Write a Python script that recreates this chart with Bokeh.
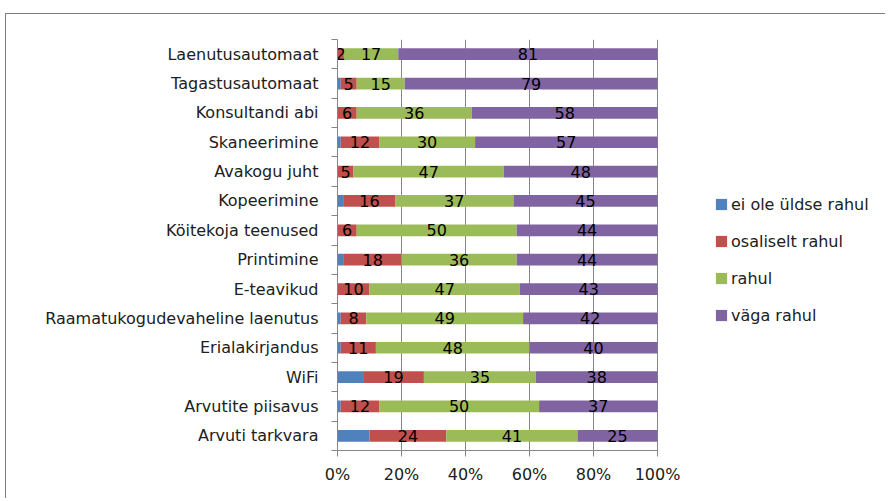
from bokeh.plotting import figure
from bokeh.models import FixedTicker, ColumnDataSource, Legend, LegendItem
from bokeh.core.properties import value
from bokeh.embed import file_html
from bokeh.resources import INLINE

# ---- data (top to bottom as in the chart) ----
categories = [
    "Laenutusautomaat", "Tagastusautomaat", "Konsultandi abi", "Skaneerimine",
    "Avakogu juht", "Kopeerimine", "Köitekoja teenused", "Printimine",
    "E-teavikud", "Raamatukogudevaheline laenutus", "Erialakirjandus", "WiFi",
    "Arvutite piisavus", "Arvuti tarkvara",
]
ei_ole_uldse_rahul = [0, 1, 0, 1, 0, 2, 0, 2, 0, 1, 1, 8, 1, 10]
osaliselt_rahul = [2, 5, 6, 12, 5, 16, 6, 18, 10, 8, 11, 19, 12, 24]
rahul = [17, 15, 36, 30, 47, 37, 50, 36, 47, 49, 48, 35, 50, 41]
vaga_rahul = [81, 79, 58, 57, 48, 45, 44, 44, 43, 42, 40, 38, 37, 25]
series_names = ["ei ole üldse rahul", "osaliselt rahul", "rahul", "väga rahul"]
series_keys = ["s0", "s1", "s2", "s3"]
colors = ["#4F81BD", "#C0504D", "#9BBB59", "#8064A2"]
x_ticks = [0, 20, 40, 60, 80, 100]

FONT = "DejaVu Sans"
FS = "16px"
TXT = "#202020"
n = len(categories)
ypos = [n - 1 - i for i in range(n)]

# layout: the frame extends right to hold the legend; the 0-100 scale spans 320px
W, H = 880, 485
LEFT, TOP, BOTTOM, RIGHT = 331, 25, 49, 10
FRAME_W = W - LEFT - RIGHT
BAR_W = 320
x_end = 100 * FRAME_W / BAR_W

data = {"y": ypos, "s0": ei_ole_uldse_rahul, "s1": osaliselt_rahul,
        "s2": rahul, "s3": vaga_rahul}
source = ColumnDataSource(data)

p = figure(width=W, height=H, x_range=(0, x_end), y_range=(-0.5, n - 0.5),
           output_backend="svg", toolbar_location=None,
           min_border_left=LEFT, min_border_right=RIGHT,
           min_border_top=TOP, min_border_bottom=BOTTOM)
p.outline_line_color = None
p.background_fill_color = "white"
p.border_fill_color = "white"
p.styles = {"margin-left": "5px", "margin-top": "13px",
            "border-left": "1px solid #7f7f7f", "border-top": "1px solid #7f7f7f"}

renderers = p.hbar_stack(series_keys, y="y", height=0.4, color=colors,
                         source=source, line_width=0)

# data labels for the last three series
series_vals = [ei_ole_uldse_rahul, osaliselt_rahul, rahul, vaga_rahul]
for k in range(1, 4):
    xs, ys, ts = [], [], []
    for i in range(n):
        left = sum(series_vals[j][i] for j in range(k))
        v = series_vals[k][i]
        xs.append(left + v / 2)
        ys.append(ypos[i])
        ts.append(str(v))
    p.text(x=xs, y=ys, text=ts, text_align="center", text_baseline="middle",
           text_font=value(FONT), text_font_size=FS, text_color="#000000")

# x axis
xa = p.xaxis[0]
xa.bounds = (0, 100)
xa.ticker = FixedTicker(ticks=x_ticks)
xa.major_label_overrides = {t: f"{t}%" for t in x_ticks}
xa.axis_line_color = "#868686"
xa.major_tick_line_color = "#868686"
xa.major_tick_out = 6
xa.major_tick_in = 0
xa.minor_tick_line_color = None
xa.major_label_standoff = 8
xa.major_label_text_font = FONT
xa.major_label_text_font_size = FS
xa.major_label_text_color = TXT

# y axis: labels at categories, ticks between them
ya = p.yaxis[0]
ya.ticker = FixedTicker(ticks=ypos, minor_ticks=[i - 0.5 for i in range(n + 1)])
ya.major_label_overrides = {ypos[i]: categories[i] for i in range(n)}
ya.axis_line_color = "#868686"
ya.major_tick_line_color = None
ya.major_tick_out = 0
ya.major_tick_in = 0
ya.minor_tick_line_color = "#868686"
ya.minor_tick_out = 6
ya.minor_tick_in = 0
ya.major_label_standoff = 13
ya.major_label_text_font = FONT
ya.major_label_text_font_size = FS
ya.major_label_text_color = TXT

p.xgrid.ticker = FixedTicker(ticks=x_ticks)
p.xgrid.grid_line_color = "#868686"
p.ygrid.grid_line_color = None

leg = Legend(items=[LegendItem(label=series_names[i], renderers=[renderers[i]])
                    for i in range(4)])
leg.location = (377, 125)
leg.orientation = "vertical"
leg.border_line_color = None
leg.background_fill_alpha = 0
leg.padding = 0
leg.margin = 0
leg.spacing = 17
leg.glyph_width = 14
leg.glyph_height = 14
leg.label_height = 20
leg.label_standoff = 3
leg.label_text_font = FONT
leg.label_text_font_size = FS
leg.label_text_color = TXT
p.add_layout(leg, "center")

open("out.html", "w").write(file_html(p, INLINE))
